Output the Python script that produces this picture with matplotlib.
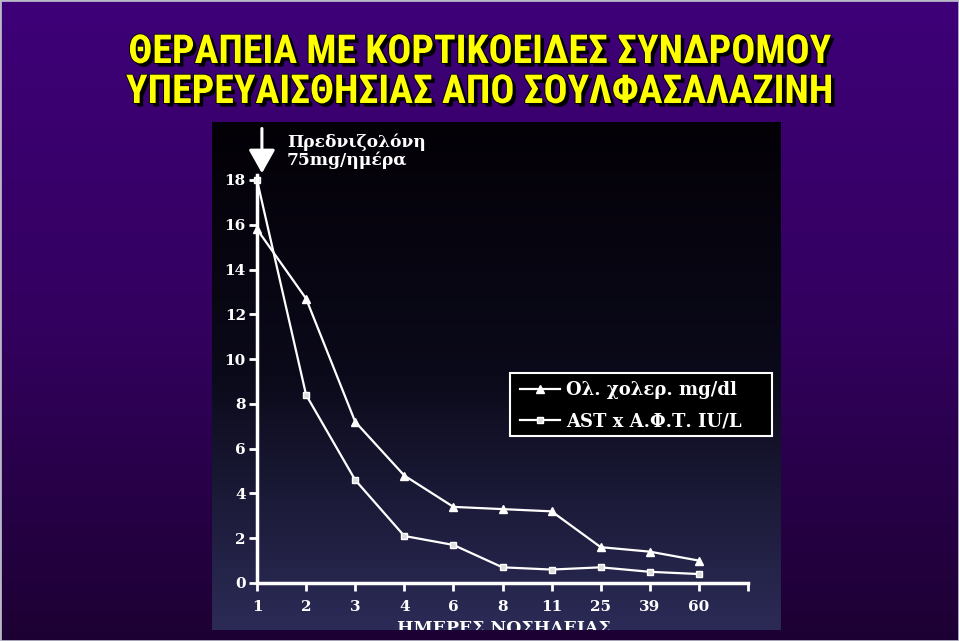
import matplotlib
matplotlib.use("Agg")
import matplotlib.pyplot as plt
import matplotlib.patheffects as pe
from matplotlib import font_manager
from matplotlib.colors import LinearSegmentedColormap
from matplotlib.patches import Rectangle
import numpy as np

# data
days = ["1", "2", "3", "4", "6", "8", "11", "25", "39", "60"]
cholesterol = [15.8, 12.7, 7.2, 4.8, 3.4, 3.3, 3.2, 1.6, 1.4, 1.0]
ast_alp = [18.0, 8.4, 4.6, 2.1, 1.7, 0.7, 0.6, 0.7, 0.5, 0.4]
y_ticks = [0, 2, 4, 6, 8, 10, 12, 14, 16, 18]

title_lines = ["ΘΕΡΑΠΕΙΑ ΜΕ ΚΟΡΤΙΚΟΕΙΔΕΣ ΣΥΝΔΡΟΜΟΥ",
               "ΥΠΕΡΕΥΑΙΣΘΗΣΙΑΣ ΑΠΟ ΣΟΥΛΦΑΣΑΛΑΖΙΝΗ"]
series_labels = ["Ολ. χολερ. mg/dl", "AST x Α.Φ.Τ. IU/L"]
drug_note = ["Πρεδνιζολόνη", "75mg/ημέρα"]
x_title = "ΗΜΕΡΕΣ ΝΟΣΗΛΕΙΑΣ"

W, H = 959, 641

# narrow bold sans for the title if one is installed
fonts = font_manager.fontManager.ttflist
names = {f.name for f in fonts}
title_kw = dict(family="Liberation Sans", fontsize=24.5)
for cand in ["Liberation Sans Narrow", "Roboto Condensed", "Open Sans Condensed",
             "Noto Sans Condensed"]:
    if cand in names:
        title_kw = dict(family=cand, fontsize=28.7)
        break
else:
    if any(f.name == "DejaVu Sans" and "condensed" in str(f.stretch) for f in fonts):
        title_kw = dict(family="DejaVu Sans", fontstretch="condensed", fontsize=25.5)
serif = "DejaVu Serif"

fig = plt.figure(figsize=(W / 100, H / 100), dpi=100)

# slide background
bg = fig.add_axes([0, 0, 1, 1])
bg.axis("off")
grad = np.linspace(0, 1, 256)[:, None]
bg.imshow(grad, aspect="auto", extent=[0, 1, 0, 1],
          cmap=LinearSegmentedColormap.from_list("slide", ["#3e0078", "#33005f", "#1d0033"]))
bg.add_patch(Rectangle((0, 0), 1, 1, transform=bg.transAxes, fill=False,
                       edgecolor="#b8b8c8", lw=2))

# photographed chart panel
panel = fig.add_axes([212 / W, 1 - 630 / H, (781 - 212) / W, (630 - 122) / H])
panel.axis("off")
panel.imshow(grad, aspect="auto", extent=[0, 1, 0, 1],
             cmap=LinearSegmentedColormap.from_list("panel", ["#030006", "#0b0a1a", "#2c2b57"]))
panel.set_xlim(0, 1)
panel.set_ylim(0, 1)
xl = panel.text((504 - 212) / 569, (630 - 620) / 508, x_title, ha="center", va="top",
                color="white", fontsize=12.5, fontweight="bold", family=serif)
xl.set_clip_on(True)

# title
shadow = [pe.SimplePatchShadow(offset=(2.5, -2.5), shadow_rgbFace="black", alpha=1),
          pe.Stroke(linewidth=1.2, foreground="black"), pe.Normal()]
for i, line in enumerate(title_lines):
    fig.text(0.5, 1 - (52 + 40 * i) / H, line, ha="center", va="center",
             fontweight="bold", color="#ffff00", path_effects=shadow, **title_kw)

# chart
top = (583 - 175) / 22.39
ax = fig.add_axes([257 / W, 1 - 583 / H, (748 - 257) / W, (583 - 175) / H])
ax.set_facecolor("none")
x = np.arange(len(days))
ax.plot(x, cholesterol, color="white", lw=1.6, marker="^", ms=6, clip_on=False,
        label=series_labels[0])
ax.plot(x, ast_alp, color="white", lw=1.6, marker="s", ms=4.5, mfc="#dddddd",
        clip_on=False, label=series_labels[1])

ax.set_xlim(0, 10)
ax.set_ylim(0, top)
ax.set_xticks(range(11))
ax.set_xticklabels(days + [""])
ax.set_yticks(y_ticks)
for s in ["top", "right"]:
    ax.spines[s].set_visible(False)
for s in ["left", "bottom"]:
    ax.spines[s].set_color("white")
    ax.spines[s].set_linewidth(2.5)
ax.tick_params(colors="white", width=2, length=6)
ax.tick_params(axis="x", pad=6)
ax.tick_params(axis="y", pad=2)
for lab in ax.get_xticklabels() + ax.get_yticklabels():
    lab.set_family(serif)
    lab.set_fontweight("bold")
    lab.set_fontsize(11)
    lab.set_color("white")

# prednisolone start
ax.annotate("", xy=(0.1, 18.3), xytext=(0.1, 20.3), annotation_clip=False,
            arrowprops=dict(arrowstyle="-|>,head_width=0.45,head_length=0.8",
                            color="white", lw=2.2, mutation_scale=18,
                            shrinkA=0, shrinkB=0))
for i, line in enumerate(drug_note):
    ax.text(0.61, 19.7 - 0.82 * i, line, ha="left", va="center", color="white",
            fontsize=12.3, fontweight="bold", family=serif, clip_on=False)

# legend with its box drawn to the size seen on the slide
box = Rectangle((510 / W, 1 - 436 / H), (772 - 510) / W, (436 - 373) / H,
                transform=fig.transFigure, facecolor="black",
                edgecolor="white", lw=1.5, zorder=4, clip_on=False)
ax.add_artist(box)
leg = ax.legend(loc="upper left", bbox_to_anchor=(512 / W, 1 - 373 / H),
                bbox_transform=fig.transFigure, borderaxespad=0, frameon=False,
                labelcolor="white", handlelength=2.2, handletextpad=0.35,
                borderpad=0.45, labelspacing=0.75,
                prop=dict(family=serif, weight="bold", size=13))
leg.set_zorder(6)

fig.savefig("out.png", dpi=100)
